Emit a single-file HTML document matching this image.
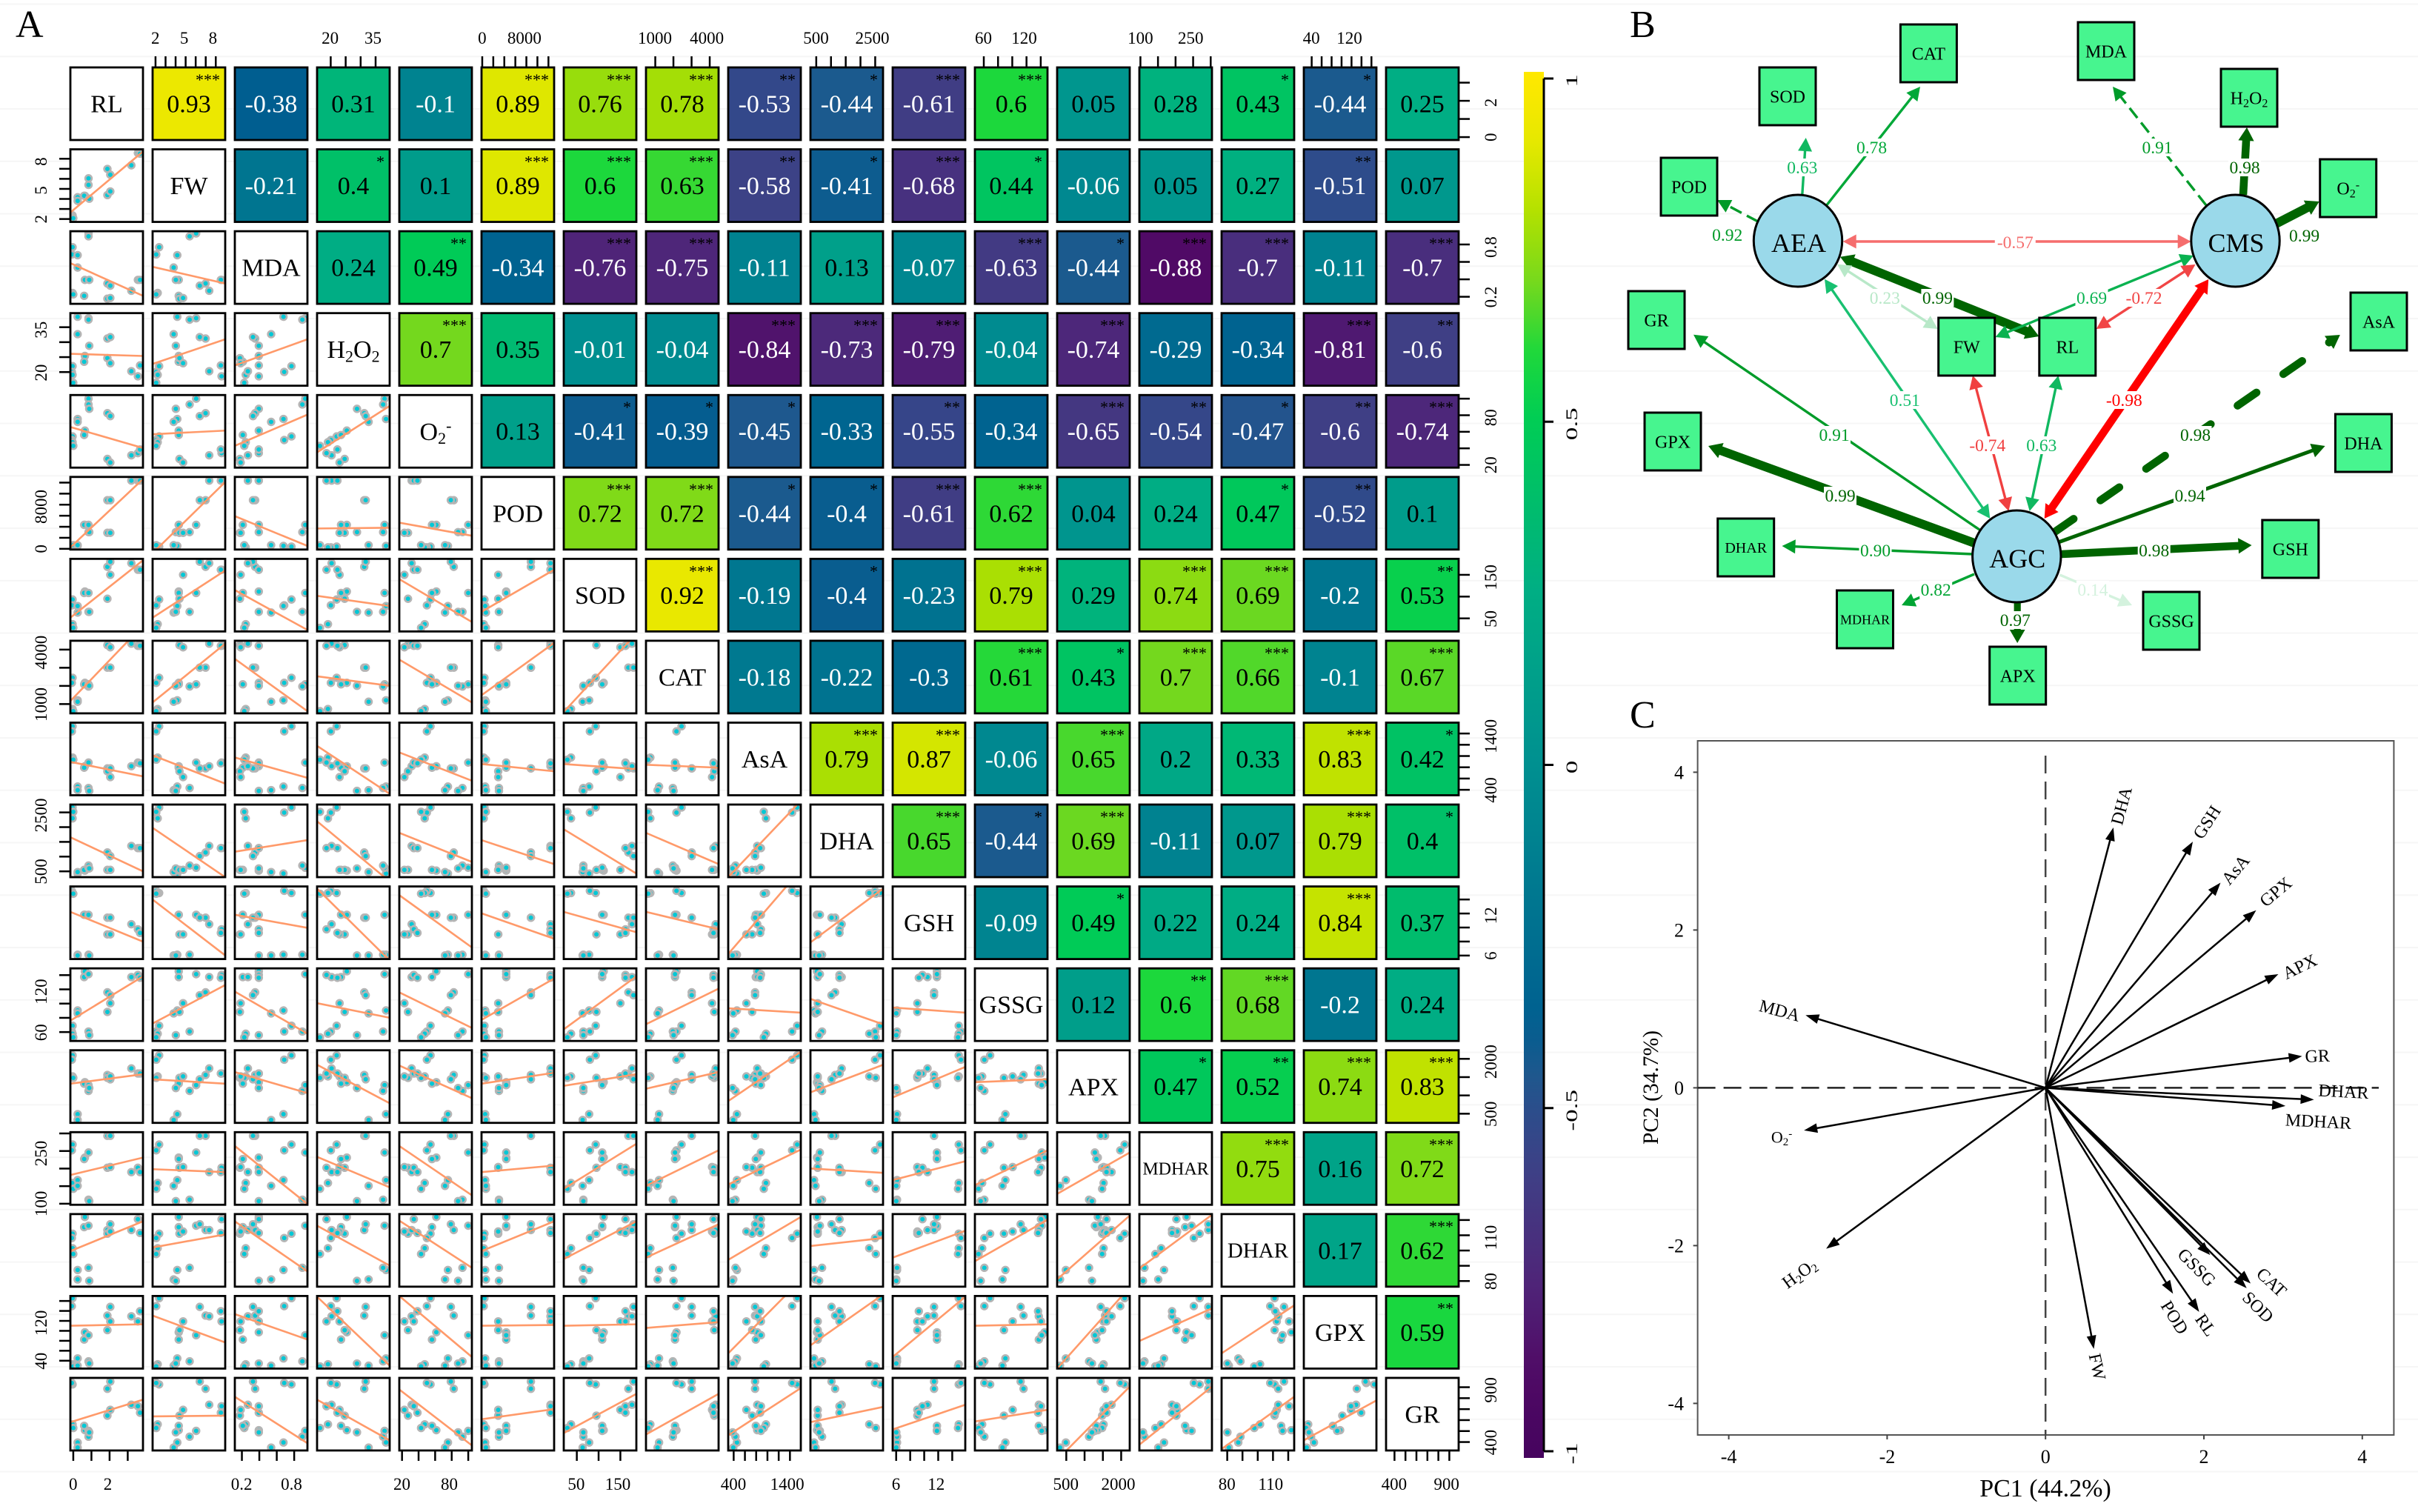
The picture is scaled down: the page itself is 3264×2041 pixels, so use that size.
<!DOCTYPE html>
<html lang="en">
<head>
<meta charset="utf-8">
<title>Correlation matrix, structural equation model and PCA biplot</title>
<style>
html,body{margin:0;padding:0;background:#fff;}
#figure{display:block;width:3264px;height:2041px;background-color:#fff;background-image:linear-gradient(#fff 97.2%,#f6f6f6 97.2%);background-size:100% 70.75px;background-repeat:repeat-y;background-position:0 6.55px;font-family:"Liberation Serif",serif;}
</style>
</head>
<body>
<svg id="figure" xmlns="http://www.w3.org/2000/svg" width="3264" height="2041" viewBox="0 0 3264 2041">
  <defs><linearGradient id="cbar-gradient" x1="0" y1="0" x2="0" y2="1"></linearGradient></defs>
  <g id="panel-a">
    <text x="21" y="50" font-size="52">A</text>
  </g>
  <g id="colorbar"></g>
  <g id="panel-b">
    <text x="2200" y="50" font-size="52">B</text>
  </g>
  <g id="panel-c">
    <text x="2200" y="982" font-size="52">C</text>
  </g>
</svg>
<script>
/* ---------- Panel A data ---------- */
const varNames = ['RL','FW','MDA','H2O2','O2-','POD','SOD','CAT','AsA','DHA','GSH','GSSG','APX','MDHAR','DHAR','GPX','GR'];
/* axis range of each variable */
const axisLow  = [-0.16,1.71,0.119,15.44,16.7,-130,20,488,303,303,5.5,47.5,250,97,76.3,24.2,323];
const axisHigh = [3.84,8.94,0.952,39.7,104.4,13030,186.7,4488,1593,2766,15.86,149.5,2234,303.6,123.9,170,985];
const axisTicks = [
 [0,1,2,3],[2,3,4,5,6,7,8],[0.2,0.4,0.6,0.8],[20,25,30,35],[20,40,60,80,100],
 [0,2000,4000,6000,8000,10000,12000],[50,100,150],[1000,2000,3000,4000],
 [400,600,800,1000,1200,1400],[500,1000,1500,2000,2500],[6,8,10,12,14],
 [60,80,100,120,140],[500,1000,1500,2000],[100,150,200,250,300],[80,90,100,110,120],
 [40,60,80,100,120,140,160],[400,500,600,700,800,900]
];
const axisTickLabels = [
 [0,2],[2,5,8],[0.2,0.8],[20,35],[20,80],[0,8000],[50,150],[1000,4000],[400,1400],
 [500,2500],[6,12],[60,120],[500,2000],[100,250],[80,110],[40,120],[400,900]
];
/* sample values, percent of each variable's axis range */
const RL    = [3,2,3,4,10,10,20,19,25,25,26,51,51,55,55,84,93,96];
const FW    = [9,5,7,5,34,29,36,36,60,51,32,73,37,65,42,78,95,94];
const MDA   = [78,68,15,13,67,50,33,11,97,93,33,28,7,25,8,18,33,33];
const H2O2  = [27,19,15,4,95,71,41,33,93,91,55,65,38,67,31,20,13,28];
const O2    = [43,38,35,30,67,63,51,45,95,87,81,75,12,71,7,17,20,25];
const POD   = [4,3,3,6,5,6,34,34,34,24,24,68,23,68,23,95,95,95];
const SOD   = [44,36,10,5,35,26,55,53,53,27,27,89,45,96,78,94,85,85];
const CAT   = [49,42,6,3,18,16,42,40,40,37,38,63,94,63,91,96,93,93];
const AsA   = [95,88,52,49,12,7,40,38,45,10,6,37,33,37,25,40,45,44];
const DHA   = [96,89,81,90,5,7,9,10,13,16,12,34,10,29,10,43,40,40];
const GSH   = [91,94,91,90,6,5,61,61,61,6,5,57,34,57,34,48,41,36];
const GSSG  = [21,13,10,5,42,38,96,88,92,13,8,67,40,63,52,88,91,87];
const APX   = [93,87,64,62,12,4,56,54,52,44,48,66,62,60,64,75,68,68];
const MDHAR = [83,75,30,22,34,26,65,63,72,7,5,95,51,95,52,45,51,45];
const DHAR  = [73,67,53,45,23,10,96,82,84,26,8,78,73,86,76,78,93,74];
const GPX   = [97,86,6,3,14,4,50,40,46,10,7,73,53,85,65,72,65,79];
const GR    = [91,93,36,31,11,4,28,34,27,19,25,85,48,95,56,63,61,52];
const sampleSeries = [RL,FW,MDA,H2O2,O2,POD,SOD,CAT,AsA,DHA,GSH,GSSG,APX,MDHAR,DHAR,GPX,GR];
/* fitted line: value at the panel's left and right edge, percent of axis range; row i has i entries */
const trendFits = [
 [],
 [[13,97]],
 [[56,11],[51,28]],
 [[44,41],[30,64],[28,64]],
 [[56,27],[46,51],[30,73],[21,85]],
 [[3,97],[-5,93],[46,5],[29,30],[37,19]],
 [[19,98],[19,84],[57,2],[49,35],[72,13],[27,85]],
 [[17,121],[15,96],[75,3],[51,38],[74,15],[25,97],[2,110]],
 [[46,26],[55,16],[52,24],[68,2],[59,20],[43,33],[43,36],[42,38]],
 [[55,8],[68,0],[35,51],[77,-6],[61,21],[51,18],[66,5],[61,18],[0,105]],
 [[65,24],[82,5],[61,43],[97,-2],[88,16],[63,28],[65,37],[65,41],[7,123],[23,97]],
 [[28,89],[24,77],[68,10],[52,32],[67,18],[29,86],[16,89],[23,72],[45,39],[58,23],[46,39]],
 [[54,67],[60,54],[70,41],[80,27],[79,34],[54,69],[51,67],[47,70],[30,98],[42,80],[35,77],[56,60]],
 [[41,65],[49,45],[81,1],[66,24],[81,13],[45,54],[22,84],[26,75],[28,76],[50,44],[34,60],[27,75],[15,72]],
 [[49,90],[54,72],[90,21],[84,29],[91,26],[49,90],[38,90],[40,86],[37,96],[56,67],[40,77],[35,92],[10,98],[25,99]],
 [[59,61],[73,36],[75,40],[99,4],[100,16],[59,60],[59,61],[56,64],[21,122],[32,102],[16,99],[59,61],[0,112],[38,83],[21,87]],
 [[39,70],[47,48],[74,10],[70,14],[84,7],[43,57],[24,78],[22,78],[21,86],[39,60],[29,63],[40,56],[-13,88],[8,88],[2,74],[14,69]]
];
/* upper-triangle correlation coefficients */
const corrRows = [
 [0.93,-0.38,0.31,-0.1,0.89,0.76,0.78,-0.53,-0.44,-0.61,0.6,0.05,0.28,0.43,-0.44,0.25],
 [-0.21,0.4,0.1,0.89,0.6,0.63,-0.58,-0.41,-0.68,0.44,-0.06,0.05,0.27,-0.51,0.07],
 [0.24,0.49,-0.34,-0.76,-0.75,-0.11,0.13,-0.07,-0.63,-0.44,-0.88,-0.7,-0.11,-0.7],
 [0.7,0.35,-0.01,-0.04,-0.84,-0.73,-0.79,-0.04,-0.74,-0.29,-0.34,-0.81,-0.6],
 [0.13,-0.41,-0.39,-0.45,-0.33,-0.55,-0.34,-0.65,-0.54,-0.47,-0.6,-0.74],
 [0.72,0.72,-0.44,-0.4,-0.61,0.62,0.04,0.24,0.47,-0.52,0.1],
 [0.92,-0.19,-0.4,-0.23,0.79,0.29,0.74,0.69,-0.2,0.53],
 [-0.18,-0.22,-0.3,0.61,0.43,0.7,0.66,-0.1,0.67],
 [0.79,0.87,-0.06,0.65,0.2,0.33,0.83,0.42],
 [0.65,-0.44,0.69,-0.11,0.07,0.79,0.4],
 [-0.09,0.49,0.22,0.24,0.84,0.37],
 [0.12,0.6,0.68,-0.2,0.24],
 [0.47,0.52,0.74,0.83],
 [0.75,0.16,0.72],
 [0.17,0.62],
 [0.59]
];
/* number of significance stars for each coefficient */
const starRows = [
 [3,0,0,0,3,3,3,2,1,3,3,0,0,1,1,0],
 [0,1,0,3,3,3,2,1,3,1,0,0,0,2,0],
 [0,2,0,3,3,0,0,0,3,1,3,3,0,3],
 [3,0,0,0,3,3,3,0,3,0,0,3,2],
 [0,1,1,1,0,2,0,3,2,1,2,3],
 [3,3,1,1,3,3,0,0,1,2,0],
 [3,0,1,0,3,0,3,3,0,2],
 [0,0,0,3,1,3,3,0,3],
 [3,3,0,3,0,0,3,1],
 [3,1,3,0,0,3,1],
 [0,1,0,0,3,0],
 [0,2,3,0,0],
 [1,2,3,3],
 [3,0,3],
 [0,3],
 [2]
];
const colorbarTicks = [1,0.5,0,-0.5,-1];

/* ---------- Panel B data ---------- */
const pathNames = ['AEA-SOD','AEA-CAT','AEA-POD','CMS-MDA','CMS-H2O2','CMS-O2','AEA-CMS','AEA-RL','AEA-FW','CMS-FW','CMS-RL','AGC-CMS','AGC-AsA','AGC-DHA','AGC-GSH','AGC-GSSG','AGC-APX','AGC-MDHAR','AGC-DHAR','AGC-GPX','AGC-GR','AGC-AEA','AGC-FW','AGC-RL'];
const pathCoef = [0.63,0.78,0.92,0.91,0.98,0.99,-0.57,0.99,0.23,0.69,-0.72,-0.98,0.98,0.94,0.98,0.14,0.97,0.82,0.90,0.99,0.91,0.51,-0.74,0.63];
const pathDigits = ['0.63','0.78','0.92','0.91','0.98','0.99','-0.57','0.99','0.23','0.69','-0.72','-0.98','0.98','0.94','0.98','0.14','0.97','0.82','0.90','0.99','0.91','0.51','-0.74','0.63'];

/* ---------- Panel C data ---------- */
const pcaVars = ['DHA','GSH','AsA','GPX','APX','GR','DHAR','MDHAR','CAT','SOD','GSSG','RL','POD','FW','H2O2','O2-','MDA'];
const pcaPC1 = [0.857,1.86,2.21,2.66,2.94,3.24,3.39,3.03,2.59,2.54,2.08,1.94,1.61,0.61,-2.77,-3.05,-3.03];
const pcaPC2 = [3.30,3.12,2.60,2.25,1.44,0.40,-0.15,-0.23,-2.48,-2.54,-2.12,-2.84,-2.61,-3.31,-2.04,-0.54,0.92];
const pcaLabelPC1 = [0.958,2.037,2.398,2.906,3.21,3.433,3.763,3.445,2.855,2.684,1.91,2.024,1.63,0.654,-3.109,-3.331,-3.357];
const pcaLabelPC2 = [3.575,3.366,2.765,2.484,1.536,0.405,-0.046,-0.425,-2.464,-2.778,-2.275,-3.006,-2.91,-3.536,-2.353,-0.62,0.98];
const pcaLabelAngle = [-75,-57,-50,-40,-26,-2,3,3,43,45,45,55,58,78,-36,0,15];
const pcaTicks = [-4,-2,0,2,4];

/* ---------- helpers ---------- */
const NS = 'http://www.w3.org/2000/svg';
function make(tag, attrs, parent) {
  const n = document.createElementNS(NS, tag);
  for (const k in attrs) n.setAttribute(k, attrs[k]);
  parent.appendChild(n);
  return n;
}
function hexToRgb(h) { return [parseInt(h.slice(1,3),16),parseInt(h.slice(3,5),16),parseInt(h.slice(5,7),16)]; }
function interpolate(stops, v) {
  if (v <= stops[0][0]) return stops[0][1];
  for (let i = 1; i < stops.length; i++) {
    if (v <= stops[i][0]) {
      const t = (v - stops[i-1][0]) / (stops[i][0] - stops[i-1][0]);
      const a = hexToRgb(stops[i-1][1]), b = hexToRgb(stops[i][1]);
      return 'rgb(' + a.map((c, k) => Math.round(c + (b[k] - c) * t)).join(',') + ')';
    }
  }
  return stops[stops.length-1][1];
}
const corrStops = [[-1,'#46045e'],[-0.88,'#500a66'],[-0.76,'#4f2478'],[-0.6,'#3f3f85'],[-0.53,'#33488a'],[-0.44,'#1b5a8e'],[-0.38,'#005e90'],[-0.2,'#007690'],[0,'#009090'],[0.25,'#00ae84'],[0.5,'#00cc55'],[0.6,'#1cd83c'],[0.7,'#74d81e'],[0.8,'#b0e000'],[0.9,'#e4e800'],[1,'#ffe800']];
function chem(t, name, size) {
  const sub = Math.round(size * 0.66), drop = size * 0.16, lift = size * 0.34;
  function part(s, fs, dy) {
    const p = make('tspan', {'font-size': fs, dy: dy}, t);
    p.textContent = s;
  }
  if (name === 'H2O2') {
    part('H', size, 0); part('2', sub, drop); part('O', size, -drop); part('2', sub, drop);
  } else if (name === 'O2-') {
    part('O', size, 0); part('2', sub, drop); part('-', sub, -drop - lift);
  } else {
    t.textContent = name;
  }
}

/* ---------- Panel A drawing ---------- */
const panelA = document.getElementById('panel-a');
const gridLeft = 95, gridTop = 91, colStep = 111, rowStep = 110.56, cellW = 98, cellH = 98;
function colX(j) { return gridLeft + colStep * j; }
function rowY(i) { return gridTop + rowStep * i; }
function axisFrac(v, value) { return (value - axisLow[v]) / (axisHigh[v] - axisLow[v]); }
function pctX(p) { return cellW * p / 100; }
function pctY(p) { return cellH * (1 - p / 100); }
function diagSize(name) { return name === 'MDHAR' ? 24 : name === 'DHAR' ? 29 : 34; }

for (let i = 0; i < varNames.length; i++) {
  for (let j = 0; j < varNames.length; j++) {
    const x = colX(j), y = rowY(i);
    if (i === j) {
      const frame = make('rect', {x: x, y: y, width: cellW, height: cellH, fill: '#fff', stroke: '#000', 'stroke-width': 2.8}, panelA);
      
      
      const t = make('text', {x: x + cellW/2, y: y + cellH/2 + diagSize(varNames[i]) * 0.34, 'text-anchor': 'middle', 'font-size': diagSize(varNames[i])}, panelA);
      
      
      chem(t, varNames[i], diagSize(varNames[i]));
    } else if (j > i) {
      const value = corrRows[i][j - i - 1], stars = starRows[i][j - i - 1];
      const cell = make('rect', {x: x, y: y, width: cellW, height: cellH, fill: interpolate(corrStops, value), stroke: '#000', 'stroke-width': 2.8}, panelA);
      
      
      const t = make('text', {x: x + cellW/2, y: y + cellH/2 + 11.5, 'text-anchor': 'middle', 'font-size': 34, fill: value < 0 ? '#fff' : '#000'}, panelA);
      
      
      t.textContent = String(value);
      if (stars > 0) {
        const s = make('text', {x: x + cellW - 7, y: y + 24, 'text-anchor': 'end', 'font-size': 22, fill: '#000'}, panelA);
        
        
        s.textContent = '*'.repeat(stars);
      }
    } else {
      const panel = make('svg', {x: x, y: y, width: cellW, height: cellH}, panelA);
      
      
      make('rect', {x: 0, y: 0, width: cellW, height: cellH, fill: '#fff'}, panel);
      const xs = sampleSeries[j], ys = sampleSeries[i];
      for (let k = 0; k < xs.length; k++) {
        const dot = make('circle', {cx: pctX(xs[k]), cy: pctY(ys[k]), r: 4.35, fill: '#00c8d6', stroke: '#b5b5b5', 'stroke-width': 2.7}, panel);
        
        
      }
      const fit = trendFits[i][j];
      const line = make('line', {x1: 0, y1: pctY(fit[0]), x2: cellW, y2: pctY(fit[1]), stroke: '#ff9a6a', 'stroke-width': 2.6}, panel);
      
      
      const frame = make('rect', {x: x, y: y, width: cellW, height: cellH, fill: 'none', stroke: '#000', 'stroke-width': 2.8}, panelA);
      
      
    }
  }
}
/* pairs-plot axes: top & left on even variables, bottom & right on odd variables */
function tickText(str, x, y, rotate) {
  const t = make('text', {x: 0, y: 0, 'text-anchor': 'middle', 'font-size': 23, transform: 'translate(' + x + ',' + y + ')' + (rotate ? ' rotate(-90)' : '')}, panelA);
  
  
  t.textContent = str;
}
function tickMark(x1, y1, x2, y2) {
  const m = make('line', {x1: x1, y1: y1, x2: x2, y2: y2, stroke: '#000', 'stroke-width': 2.5}, panelA);
  
  
}
const gridBottom = rowY(16) + cellH, gridRight = colX(16) + cellW;
for (let v = 0; v < varNames.length; v++) {
  const x0 = colX(v), y0 = rowY(v) + cellH;
  const even = v % 2 === 1;
  axisTicks[v].forEach(function (tv) {
    const px = x0 + axisFrac(v, tv) * cellW, py = y0 - axisFrac(v, tv) * cellH;
    if (even) { tickMark(px, gridTop - 15, px, gridTop); tickMark(gridLeft - 15, py, gridLeft, py); }
    else { tickMark(px, gridBottom, px, gridBottom + 14); tickMark(gridRight, py, gridRight + 15, py); }
  });
  axisTickLabels[v].forEach(function (tv) {
    const f = axisFrac(v, tv);
    const lx = x0 + f * cellW * 0.955, ly = y0 - f * cellH * 0.955;
    if (even) { tickText(String(tv), lx, 59, false); tickText(String(tv), 63, ly, true); }
    else { tickText(String(tv), lx, 2011, false); tickText(String(tv), 2020, ly, true); }
  });
}

/* ---------- Colorbar ---------- */
const cbar = document.getElementById('colorbar');
const grad = document.getElementById('cbar-gradient');
function cbarY(v) { return 1032.5 - 926.5 * v; }
const cbarTop = 97, cbarBottom = 1968;
for (let s = 0; s <= 40; s++) {
  const f = s / 40, yy = cbarTop + f * (cbarBottom - cbarTop);
  make('stop', {offset: f, 'stop-color': interpolate(corrStops, (1032.5 - yy) / 926.5)}, grad);
}
const cbarRect = make('rect', {x: 2057, y: cbarTop, width: 27, height: cbarBottom - cbarTop, fill: 'url(#cbar-gradient)'}, cbar);


const cbarAxis = make('line', {x1: 2084, y1: cbarY(1), x2: 2084, y2: cbarY(-1), stroke: '#000', 'stroke-width': 3}, cbar);


colorbarTicks.forEach(function (v) {
  const m = make('line', {x1: 2084, y1: cbarY(v), x2: 2097, y2: cbarY(v), stroke: '#000', 'stroke-width': 3}, cbar);
  
  
  const t = make('text', {x: 0, y: 0, 'text-anchor': 'middle', 'font-size': 22, transform: 'translate(2129,' + (cbarY(v) + 3) + ') rotate(-90) scale(1.6,1)'}, cbar);
  
  
  t.textContent = String(v);
});

/* ---------- Panel B drawing ---------- */
const panelB = document.getElementById('panel-b');
/* diagram geometry (layout, not data): x1,y1,x2,y2,double-headed,dash style,label x,label y */
const edgeLayout = [
 [2432.8,263,2437.7,186,0,0,2432.8,226],[2465.7,277,2592,117,0,0,2526.5,199],[2373,299,2318,270,0,1,2331.7,317],
 [2978,277,2852,117,0,1,2912,199],[3028,263,3033,172,0,0,3030,226],[3072.5,302,3130.7,272,0,0,3110.6,318],
 [2487.7,326,2957.7,326,1,0,2720.3,327],[2484,346.7,2752.4,454,1,0,2615.4,402],[2480,356.7,2615.7,444,1,0,2544.3,402],
 [2961,345,2693.6,455,1,0,2823.5,402],[2963.5,357,2829.8,444,1,0,2894,402],[2759.7,700,2981.2,377,1,0,2867.3,540],
 [2773.6,718,3158.8,452,0,2,2963.5,587],[2778.5,732,3138.6,602,0,0,2956,669],[2782.4,748,3039.5,736,0,0,2907.7,743],
 [2780.5,776,2878,817,0,0,2824.9,796],[2723.2,813,2723.2,868,0,0,2720.3,837],[2665,775,2567,817,0,0,2613.2,796],
 [2663,748,2405.5,737,0,0,2531.5,743],[2665,733,2306,602,0,0,2484,669],[2672,715,2286,451.7,0,0,2476,587],
 [2686.3,700,2463,376.7,1,0,2571.3,540],[2711.4,690,2663,507,1,0,2682.8,601],[2739.7,690,2778.5,507,1,0,2755.8,601]
];
const boxLayout = [
 ['CAT',2565.4,33,24],['SOD',2375,91,24],['MDA',2805,30,24],['H2O2',2998,93,24],['POD',2242,213,24],['O2-',3131.7,215,24],
 ['GR',2198,393,24],['AsA',3173,395,24],['FW',2616.7,429,24],['RL',2752.8,429,24],['GPX',2220,557,24],['DHA',3152.4,559,24],
 ['DHAR',2318.7,700,20],['GSH',3053.8,702,24],['MDHAR',2479.5,797,18],['GSSG',2893,799,24],['APX',2685.7,873,24]
];
const ellipseLayout = [['AEA',2427,325],['CMS',3017.5,325],['AGC',2722.3,751]];
const greenStops = [[0.14,'#d4f2de'],[0.23,'#b8e8c8'],[0.51,'#18c070'],[0.63,'#10b860'],[0.78,'#00a838'],[0.92,'#009a28'],[0.94,'#006400'],[1,'#006400']];
const redStops = [[0.57,'#f56d6d'],[0.74,'#f04040'],[0.98,'#ff0000']];
function edgeColor(c) { return c < 0 ? interpolate(redStops, -c) : interpolate(greenStops, c); }
function edgeWidth(c) { const a = Math.abs(c); return a < 0.94 ? 3.4 : 5 + (a - 0.94) * 140; }
function arrowHead(tipX, tipY, fromX, fromY, w, color, parent) {
  const len = Math.hypot(tipX - fromX, tipY - fromY), ux = (tipX - fromX) / len, uy = (tipY - fromY) / len;
  const hl = 18, hw = 9 + w * 0.15;
  const pts = [tipX, tipY, tipX - ux * hl - uy * hw, tipY - uy * hl + ux * hw, tipX - ux * hl + uy * hw, tipY - uy * hl - ux * hw].join(' ');
  const h = make('polygon', {points: pts, fill: color}, parent);
  
  
  return hl;
}
edgeLayout.forEach(function (e, idx) {
  const c = pathCoef[idx], w = edgeWidth(c), col = edgeColor(c);
  const hl = arrowHead(e[2], e[3], e[0], e[1], w, col, panelB) - 2;
  const len = Math.hypot(e[2] - e[0], e[3] - e[1]), ux = (e[2] - e[0]) / len, uy = (e[3] - e[1]) / len;
  let sx = e[0], sy = e[1];
  if (e[4]) {
    const hl2 = arrowHead(e[0], e[1], e[2], e[3], w, col, panelB) - 2;
    sx += ux * hl2; sy += uy * hl2;
  }
  const attrs = {x1: sx, y1: sy, x2: e[2] - ux * hl, y2: e[3] - uy * hl, stroke: col, 'stroke-width': w};
  if (e[5] === 1) attrs['stroke-dasharray'] = '17 8';
  if (e[5] === 2) { attrs['stroke-dasharray'] = '31 44'; attrs['stroke-linecap'] = 'round'; }
  const line = make('line', attrs, panelB);
  
  
});
ellipseLayout.forEach(function (n) {
  const el = make('ellipse', {cx: n[1], cy: n[2], rx: 59.7, ry: 62, fill: '#9ad9ea', stroke: '#000', 'stroke-width': 3}, panelB);
  
  
  const t = make('text', {x: n[1] + 1, y: n[2] + 15, 'text-anchor': 'middle', 'font-size': 36}, panelB);
  
  
  t.textContent = n[0];
});
boxLayout.forEach(function (b) {
  const r = make('rect', {x: b[1], y: b[2], width: 76, height: 78, fill: '#47f58f', stroke: '#000', 'stroke-width': 3}, panelB);
  
  
  const t = make('text', {x: b[1] + 38, y: b[2] + 39 + b[3] * 0.36, 'text-anchor': 'middle', 'font-size': b[3]}, panelB);
  
  
  chem(t, b[0], b[3]);
});
edgeLayout.forEach(function (e, idx) {
  const str = pathDigits[idx], lw = str.length * 11, col = edgeColor(pathCoef[idx]);
  const bg = make('rect', {x: e[6] - lw / 2, y: e[7] - 12, width: lw, height: 24, fill: '#fff'}, panelB);
  
  
  const t = make('text', {x: e[6], y: e[7] + 8, 'text-anchor': 'middle', 'font-size': 23.5, fill: col}, panelB);
  
  
  t.textContent = str;
});

/* ---------- Panel C drawing ---------- */
const panelC = document.getElementById('panel-c');
function pcaX(v) { return 2761.2 + 106.9 * v; }
function pcaY(v) { return 1468.4 - 106.5 * v; }
const pcaFrame = make('rect', {x: 2291.6, y: 1000, width: 939.8, height: 937, fill: '#fff', stroke: '#555', 'stroke-width': 2}, panelC);


const hZero = make('line', {x1: 2291.6, y1: pcaY(0), x2: 3211, y2: pcaY(0), stroke: '#222', 'stroke-width': 2.5, 'stroke-dasharray': '24 11'}, panelC);


const vZero = make('line', {x1: pcaX(0), y1: 1020, x2: pcaX(0), y2: 1937, stroke: '#444', 'stroke-width': 2.5, 'stroke-dasharray': '24 11'}, panelC);


pcaTicks.forEach(function (v) {
  const xm = make('line', {x1: pcaX(v), y1: 1937, x2: pcaX(v), y2: 1943, stroke: '#444', 'stroke-width': 2}, panelC);
  
  
  const ym = make('line', {x1: 2285.6, y1: pcaY(v), x2: 2291.6, y2: pcaY(v), stroke: '#444', 'stroke-width': 2}, panelC);
  
  
  const xl = make('text', {x: pcaX(v), y: 1975, 'text-anchor': 'middle', 'font-size': 26}, panelC);
  
  
  xl.textContent = String(v);
  const yl = make('text', {x: 2273, y: pcaY(v) + 9, 'text-anchor': 'end', 'font-size': 26}, panelC);
  
  
  yl.textContent = String(v);
});
pcaVars.forEach(function (name, i) {
  const x2 = pcaX(pcaPC1[i]), y2 = pcaY(pcaPC2[i]), x1 = pcaX(0), y1 = pcaY(0);
  const len = Math.hypot(x2 - x1, y2 - y1), ux = (x2 - x1) / len, uy = (y2 - y1) / len;
  const shaft = make('line', {x1: x1, y1: y1, x2: x2 - ux * 14, y2: y2 - uy * 14, stroke: '#000', 'stroke-width': 2.5}, panelC);
  
  
  const hl = 18, hw = 6.5;
  const pts = [x2, y2, x2 - ux * hl - uy * hw, y2 - uy * hl + ux * hw, x2 - ux * hl + uy * hw, y2 - uy * hl - ux * hw].join(' ');
  const head = make('polygon', {points: pts, fill: '#000'}, panelC);
  
  
  const size = (name === 'O2-') ? 22 : 24;
  const t = make('text', {x: 0, y: 8, 'text-anchor': 'middle', 'font-size': size, transform: 'translate(' + pcaX(pcaLabelPC1[i]) + ',' + pcaY(pcaLabelPC2[i]) + ') rotate(' + pcaLabelAngle[i] + ')'}, panelC);
  
  
  chem(t, name, size);
});
const pc1Title = make('text', {x: 2761, y: 2020, 'text-anchor': 'middle', 'font-size': 34}, panelC);


pc1Title.textContent = 'PC1 (44.2%)';
const pc2Title = make('text', {x: 0, y: 0, 'text-anchor': 'middle', 'font-size': 29.5, transform: 'translate(2238,1468) rotate(-90)'}, panelC);


pc2Title.textContent = 'PC2 (34.7%)';
</script>
</body>
</html>
